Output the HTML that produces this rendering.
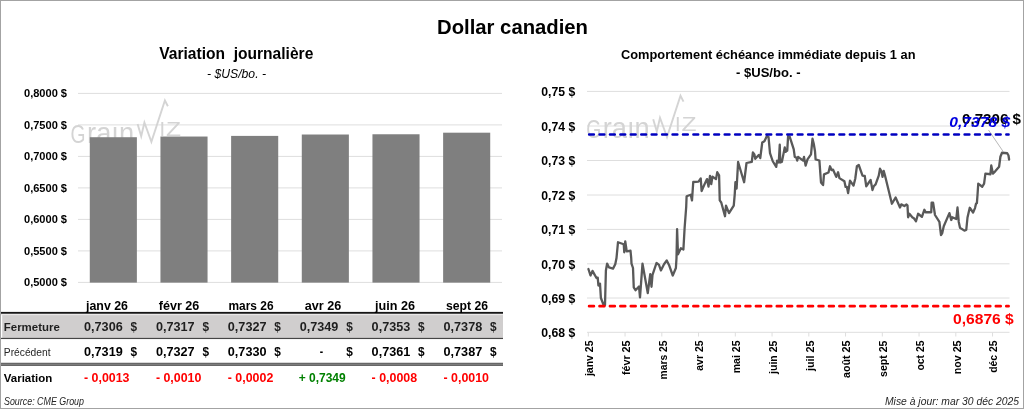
<!DOCTYPE html>
<html lang="fr">
<head>
<meta charset="utf-8">
<title>Dollar canadien</title>
<style>
html,body{margin:0;padding:0;background:#fff;}
body{width:1024px;height:409px;overflow:hidden;}
svg{display:block;}
text{font-family:"Liberation Sans",sans-serif;fill:#000;white-space:pre;}
.b{font-weight:bold;}
.i{font-style:italic;}
.grid line{stroke:#dedede;stroke-width:1;}
.wm text{fill:#d4d4d4;}
</style>
</head>
<body>
<svg width="1024" height="409" viewBox="0 0 1024 409">
<rect x="0" y="0" width="1024" height="409" fill="#ffffff"/>

<text x="437" y="34.2" font-size="20" class="b" textLength="151" lengthAdjust="spacingAndGlyphs">Dollar canadien</text>
<text x="159.3" y="59.2" font-size="17" class="b" textLength="154" lengthAdjust="spacingAndGlyphs" xml:space="preserve">Variation  journalière</text>
<text x="207" y="78" font-size="12" class="i" textLength="59" lengthAdjust="spacingAndGlyphs">- $US/bo. -</text>
<text x="621" y="58.6" font-size="13.2" class="b" textLength="294.5" lengthAdjust="spacingAndGlyphs">Comportement échéance immédiate depuis 1 an</text>
<text x="736" y="76.7" font-size="13.4" class="b" textLength="64.5" lengthAdjust="spacingAndGlyphs">- $US/bo. -</text>
<g class="grid">
<line x1="78" y1="93.4" x2="502" y2="93.4"/>
<line x1="78" y1="124.9" x2="502" y2="124.9"/>
<line x1="78" y1="156.4" x2="502" y2="156.4"/>
<line x1="78" y1="187.9" x2="502" y2="187.9"/>
<line x1="78" y1="219.4" x2="502" y2="219.4"/>
<line x1="78" y1="250.9" x2="502" y2="250.9"/>
<line x1="78" y1="282.4" x2="502" y2="282.4"/>
</g>
<g class="wm" transform="translate(71.6,99.5)">
<text x="-1" y="43" font-size="25.2" textLength="15" lengthAdjust="spacingAndGlyphs">G</text>
<text x="15.5" y="43" font-size="30" textLength="47" lengthAdjust="spacingAndGlyphs">raın</text>
<polyline points="66,24.5 69.6,36.8 72.8,23 79.8,42.3 93.3,1 96.3,6.8" fill="none" stroke="#d4d4d4" stroke-width="1.9" stroke-linejoin="miter"/>
<text x="87.9" y="36.3" font-size="20">I</text>
<text x="94.4" y="36.3" font-size="20" textLength="15" lengthAdjust="spacingAndGlyphs">Z</text>
</g>
<rect x="89.78" y="137.22" width="47.1" height="145.38" fill="#7f7f7f"/>
<rect x="160.45" y="136.53" width="47.1" height="146.07" fill="#7f7f7f"/>
<rect x="231.12" y="135.90" width="47.1" height="146.70" fill="#7f7f7f"/>
<rect x="301.78" y="134.51" width="47.1" height="148.09" fill="#7f7f7f"/>
<rect x="372.45" y="134.26" width="47.1" height="148.34" fill="#7f7f7f"/>
<rect x="443.12" y="132.69" width="47.1" height="149.91" fill="#7f7f7f"/>
<text x="24" y="97.30000000000001" font-size="10.8" class="b" textLength="43" lengthAdjust="spacingAndGlyphs">0,8000 $</text>
<text x="24" y="128.8" font-size="10.8" class="b" textLength="43" lengthAdjust="spacingAndGlyphs">0,7500 $</text>
<text x="24" y="160.3" font-size="10.8" class="b" textLength="43" lengthAdjust="spacingAndGlyphs">0,7000 $</text>
<text x="24" y="191.8" font-size="10.8" class="b" textLength="43" lengthAdjust="spacingAndGlyphs">0,6500 $</text>
<text x="24" y="223.3" font-size="10.8" class="b" textLength="43" lengthAdjust="spacingAndGlyphs">0,6000 $</text>
<text x="24" y="254.8" font-size="10.8" class="b" textLength="43" lengthAdjust="spacingAndGlyphs">0,5500 $</text>
<text x="24" y="286.29999999999995" font-size="10.8" class="b" textLength="43" lengthAdjust="spacingAndGlyphs">0,5000 $</text>
<rect x="1" y="313.7" width="502" height="1.6" fill="#e9e7e7"/>
<rect x="2.2" y="315.1" width="500.8" height="22.8" fill="#d0cece"/>
<rect x="1" y="311.9" width="502" height="1.85" fill="#161616"/>
<rect x="1" y="337.85" width="502" height="1.2" fill="#454545"/>
<rect x="1" y="362.85" width="502" height="3.1" fill="#848484"/>
<rect x="1" y="362.85" width="502" height="1.15" fill="#676767"/>
<rect x="1" y="364.8" width="502" height="1.15" fill="#676767"/>
<text x="86.0" y="309.5" font-size="13.2" class="b" textLength="42" lengthAdjust="spacingAndGlyphs">janv 26</text>
<text x="158.75" y="309.5" font-size="13.2" class="b" textLength="40.5" lengthAdjust="spacingAndGlyphs">févr 26</text>
<text x="228.5" y="309.5" font-size="13.2" class="b" textLength="45" lengthAdjust="spacingAndGlyphs">mars 26</text>
<text x="304.75" y="309.5" font-size="13.2" class="b" textLength="36.5" lengthAdjust="spacingAndGlyphs">avr 26</text>
<text x="375.0" y="309.5" font-size="13.2" class="b" textLength="40" lengthAdjust="spacingAndGlyphs">juin 26</text>
<text x="446.0" y="309.5" font-size="13.2" class="b" textLength="42" lengthAdjust="spacingAndGlyphs">sept 26</text>
<text x="84.0" y="330.8" font-size="12" class="b" textLength="38.7" lengthAdjust="spacingAndGlyphs" fill="#1f1f1f" style="fill:#1f1f1f">0,7306</text>
<text x="130.5" y="330.8" font-size="12" class="b" textLength="6.6" lengthAdjust="spacingAndGlyphs" fill="#1f1f1f" style="fill:#1f1f1f">$</text>
<text x="84.0" y="355.8" font-size="12" class="b" textLength="38.7" lengthAdjust="spacingAndGlyphs">0,7319</text>
<text x="130.5" y="355.8" font-size="12" class="b" textLength="6.6" lengthAdjust="spacingAndGlyphs">$</text>
<text x="84.0" y="382" font-size="12" class="b" textLength="45.5" lengthAdjust="spacingAndGlyphs" fill="#ff0000" style="fill:#ff0000">- 0,0013</text>
<text x="155.9" y="330.8" font-size="12" class="b" textLength="38.7" lengthAdjust="spacingAndGlyphs" fill="#1f1f1f" style="fill:#1f1f1f">0,7317</text>
<text x="202.4" y="330.8" font-size="12" class="b" textLength="6.6" lengthAdjust="spacingAndGlyphs" fill="#1f1f1f" style="fill:#1f1f1f">$</text>
<text x="155.9" y="355.8" font-size="12" class="b" textLength="38.7" lengthAdjust="spacingAndGlyphs">0,7327</text>
<text x="202.4" y="355.8" font-size="12" class="b" textLength="6.6" lengthAdjust="spacingAndGlyphs">$</text>
<text x="155.9" y="382" font-size="12" class="b" textLength="45.5" lengthAdjust="spacingAndGlyphs" fill="#ff0000" style="fill:#ff0000">- 0,0010</text>
<text x="227.8" y="330.8" font-size="12" class="b" textLength="38.7" lengthAdjust="spacingAndGlyphs" fill="#1f1f1f" style="fill:#1f1f1f">0,7327</text>
<text x="274.3" y="330.8" font-size="12" class="b" textLength="6.6" lengthAdjust="spacingAndGlyphs" fill="#1f1f1f" style="fill:#1f1f1f">$</text>
<text x="227.8" y="355.8" font-size="12" class="b" textLength="38.7" lengthAdjust="spacingAndGlyphs">0,7330</text>
<text x="274.3" y="355.8" font-size="12" class="b" textLength="6.6" lengthAdjust="spacingAndGlyphs">$</text>
<text x="227.8" y="382" font-size="12" class="b" textLength="45.5" lengthAdjust="spacingAndGlyphs" fill="#ff0000" style="fill:#ff0000">- 0,0002</text>
<text x="299.70000000000005" y="330.8" font-size="12" class="b" textLength="38.7" lengthAdjust="spacingAndGlyphs" fill="#1f1f1f" style="fill:#1f1f1f">0,7349</text>
<text x="346.20000000000005" y="330.8" font-size="12" class="b" textLength="6.6" lengthAdjust="spacingAndGlyphs" fill="#1f1f1f" style="fill:#1f1f1f">$</text>
<text x="319.70000000000005" y="355.8" font-size="12" class="b" textLength="3.4" lengthAdjust="spacingAndGlyphs">-</text>
<text x="346.20000000000005" y="355.8" font-size="12" class="b" textLength="6.6" lengthAdjust="spacingAndGlyphs">$</text>
<text x="298.70000000000005" y="382" font-size="12" class="b" textLength="47" lengthAdjust="spacingAndGlyphs" fill="#008000" style="fill:#008000">+ 0,7349</text>
<text x="371.6" y="330.8" font-size="12" class="b" textLength="38.7" lengthAdjust="spacingAndGlyphs" fill="#1f1f1f" style="fill:#1f1f1f">0,7353</text>
<text x="418.1" y="330.8" font-size="12" class="b" textLength="6.6" lengthAdjust="spacingAndGlyphs" fill="#1f1f1f" style="fill:#1f1f1f">$</text>
<text x="371.6" y="355.8" font-size="12" class="b" textLength="38.7" lengthAdjust="spacingAndGlyphs">0,7361</text>
<text x="418.1" y="355.8" font-size="12" class="b" textLength="6.6" lengthAdjust="spacingAndGlyphs">$</text>
<text x="371.6" y="382" font-size="12" class="b" textLength="45.5" lengthAdjust="spacingAndGlyphs" fill="#ff0000" style="fill:#ff0000">- 0,0008</text>
<text x="443.5" y="330.8" font-size="12" class="b" textLength="38.7" lengthAdjust="spacingAndGlyphs" fill="#1f1f1f" style="fill:#1f1f1f">0,7378</text>
<text x="490.0" y="330.8" font-size="12" class="b" textLength="6.6" lengthAdjust="spacingAndGlyphs" fill="#1f1f1f" style="fill:#1f1f1f">$</text>
<text x="443.5" y="355.8" font-size="12" class="b" textLength="38.7" lengthAdjust="spacingAndGlyphs">0,7387</text>
<text x="490.0" y="355.8" font-size="12" class="b" textLength="6.6" lengthAdjust="spacingAndGlyphs">$</text>
<text x="443.5" y="382" font-size="12" class="b" textLength="45.5" lengthAdjust="spacingAndGlyphs" fill="#ff0000" style="fill:#ff0000">- 0,0010</text>
<text x="3.8" y="331" font-size="11.6" class="b" textLength="56" lengthAdjust="spacingAndGlyphs" fill="#1f1f1f" style="fill:#1f1f1f">Fermeture</text>
<text x="3.8" y="355.8" font-size="11.4" textLength="46.8" lengthAdjust="spacingAndGlyphs" fill="#262626" style="fill:#262626">Précédent</text>
<text x="3.8" y="382" font-size="11.8" class="b" textLength="48.5" lengthAdjust="spacingAndGlyphs">Variation</text>
<text x="4" y="404.6" font-size="10" class="i" textLength="80" lengthAdjust="spacingAndGlyphs" fill="#262626" style="fill:#262626">Source: CME Group</text>
<g class="grid">
<line x1="587" y1="91.4" x2="1009.5" y2="91.4"/>
<line x1="587" y1="126.0" x2="1009.5" y2="126.0"/>
<line x1="587" y1="160.5" x2="1009.5" y2="160.5"/>
<line x1="587" y1="195.0" x2="1009.5" y2="195.0"/>
<line x1="587" y1="229.4" x2="1009.5" y2="229.4"/>
<line x1="587" y1="263.8" x2="1009.5" y2="263.8"/>
<line x1="587" y1="298.0" x2="1009.5" y2="298.0"/>
<line x1="587" y1="332.3" x2="1009.5" y2="332.3"/>
<line x1="588.30" y1="332.3" x2="588.30" y2="336.5"/>
<line x1="625.05" y1="332.3" x2="625.05" y2="336.5"/>
<line x1="661.80" y1="332.3" x2="661.80" y2="336.5"/>
<line x1="698.55" y1="332.3" x2="698.55" y2="336.5"/>
<line x1="735.30" y1="332.3" x2="735.30" y2="336.5"/>
<line x1="772.05" y1="332.3" x2="772.05" y2="336.5"/>
<line x1="808.80" y1="332.3" x2="808.80" y2="336.5"/>
<line x1="845.55" y1="332.3" x2="845.55" y2="336.5"/>
<line x1="882.30" y1="332.3" x2="882.30" y2="336.5"/>
<line x1="919.05" y1="332.3" x2="919.05" y2="336.5"/>
<line x1="955.80" y1="332.3" x2="955.80" y2="336.5"/>
<line x1="992.55" y1="332.3" x2="992.55" y2="336.5"/>
</g>
<g class="wm" transform="translate(587.2,94.8)">
<text x="-1" y="43" font-size="25.2" textLength="15" lengthAdjust="spacingAndGlyphs">G</text>
<text x="15.5" y="43" font-size="30" textLength="47" lengthAdjust="spacingAndGlyphs">raın</text>
<polyline points="66,24.5 69.6,36.8 72.8,23 79.8,42.3 93.3,1 96.3,6.8" fill="none" stroke="#d4d4d4" stroke-width="1.9" stroke-linejoin="miter"/>
<text x="87.9" y="36.3" font-size="20">I</text>
<text x="94.4" y="36.3" font-size="20" textLength="15" lengthAdjust="spacingAndGlyphs">Z</text>
</g>
<text x="541.2" y="96.10000000000001" font-size="12.2" class="b" textLength="34" lengthAdjust="spacingAndGlyphs">0,75 $</text>
<text x="541.2" y="130.7" font-size="12.2" class="b" textLength="34" lengthAdjust="spacingAndGlyphs">0,74 $</text>
<text x="541.2" y="165.2" font-size="12.2" class="b" textLength="34" lengthAdjust="spacingAndGlyphs">0,73 $</text>
<text x="541.2" y="199.7" font-size="12.2" class="b" textLength="34" lengthAdjust="spacingAndGlyphs">0,72 $</text>
<text x="541.2" y="234.1" font-size="12.2" class="b" textLength="34" lengthAdjust="spacingAndGlyphs">0,71 $</text>
<text x="541.2" y="268.5" font-size="12.2" class="b" textLength="34" lengthAdjust="spacingAndGlyphs">0,70 $</text>
<text x="541.2" y="302.7" font-size="12.2" class="b" textLength="34" lengthAdjust="spacingAndGlyphs">0,69 $</text>
<text x="541.2" y="337.0" font-size="12.2" class="b" textLength="34" lengthAdjust="spacingAndGlyphs">0,68 $</text>
<text transform="translate(593.10,340.5) rotate(-90)" text-anchor="end" font-size="10.8" class="b" textLength="35.6" lengthAdjust="spacingAndGlyphs">janv 25</text>
<text transform="translate(629.85,340.5) rotate(-90)" text-anchor="end" font-size="10.8" class="b" textLength="34.6" lengthAdjust="spacingAndGlyphs">févr 25</text>
<text transform="translate(666.60,340.5) rotate(-90)" text-anchor="end" font-size="10.8" class="b" textLength="39" lengthAdjust="spacingAndGlyphs">mars 25</text>
<text transform="translate(703.35,340.5) rotate(-90)" text-anchor="end" font-size="10.8" class="b" textLength="30.2" lengthAdjust="spacingAndGlyphs">avr 25</text>
<text transform="translate(740.10,340.5) rotate(-90)" text-anchor="end" font-size="10.8" class="b" textLength="32.8" lengthAdjust="spacingAndGlyphs">mai 25</text>
<text transform="translate(776.85,340.5) rotate(-90)" text-anchor="end" font-size="10.8" class="b" textLength="33.5" lengthAdjust="spacingAndGlyphs">juin 25</text>
<text transform="translate(813.60,340.5) rotate(-90)" text-anchor="end" font-size="10.8" class="b" textLength="30.5" lengthAdjust="spacingAndGlyphs">juil 25</text>
<text transform="translate(850.35,340.5) rotate(-90)" text-anchor="end" font-size="10.8" class="b" textLength="37.5" lengthAdjust="spacingAndGlyphs">août 25</text>
<text transform="translate(887.10,340.5) rotate(-90)" text-anchor="end" font-size="10.8" class="b" textLength="36.5" lengthAdjust="spacingAndGlyphs">sept 25</text>
<text transform="translate(923.85,340.5) rotate(-90)" text-anchor="end" font-size="10.8" class="b" textLength="30" lengthAdjust="spacingAndGlyphs">oct 25</text>
<text transform="translate(960.60,340.5) rotate(-90)" text-anchor="end" font-size="10.8" class="b" textLength="33.8" lengthAdjust="spacingAndGlyphs">nov 25</text>
<text transform="translate(997.35,340.5) rotate(-90)" text-anchor="end" font-size="10.8" class="b" textLength="32.3" lengthAdjust="spacingAndGlyphs">déc 25</text>
<polyline points="588.4,269 590.5,275.5 592.5,270.9 594,273.6 596.5,278 597.75,277.75 598.4,285.5 600,283.6 600.9,298 604,306 605,305 605.9,270.5 607.1,263.6 609,267.4 613,268.6 615.25,264.25 616.5,258 618,242.25 623.75,244.25 624.25,252.25 625.25,241.4 626.75,251.4 630.5,250.75 631.2,258 631.5,263.6 633,268 633.75,287.4 635.5,290.25 639,286.5 640,297.4 642.5,263.6 647.75,293 650.25,274.25 651.5,286.75 652.5,274.9 656.5,263 659,264.9 660.9,270.5 664,264.25 666.75,260.5 669,264.9 672.75,275.5 675.9,268 676.5,258 677.1,229.25 678,254.25 680.9,248.25 683.4,249.5 684.6,228.25 686.2,207 686.6,196.25 690.75,194.75 692,200.4 693.25,182 698.5,181.6 700.75,178.5 701.6,191 703.75,186 707,179.1 708.5,186.6 710,176 711.25,184.1 712.5,176.6 716,179.1 717.25,172.25 719.1,175.4 719.75,200.4 721.25,202.5 725,216.25 726,205.6 729,213.1 733.75,205.6 734.75,194.1 735.4,182.25 736.6,188.5 738.1,162 744.1,182.25 746.5,163 751.8,161.8 752.9,152.5 754.4,154.4 755.25,158.75 758.75,155 760.25,158.1 762.25,142.5 764.4,141.25 766.9,136 768.5,136.9 770,153.1 772.75,161.25 776.25,166.9 777.1,160.6 778.75,162.5 779.75,144.75 780.25,162.5 781.9,161.9 784.75,147.5 785.6,151.9 787.25,150.6 788.1,136.25 789.75,136.9 793.75,149.4 794.75,156.9 796.25,157.5 797.25,160.6 798.1,156.9 803.1,160.6 804,156.9 805.6,165.6 807.5,159.4 811,154.4 812.5,138.75 813.75,143.75 815,151.25 815.6,159.4 818.5,160.25 819.4,160.6 821,182.5 823.1,185 824,174.4 828.5,172.5 830,166.25 831.5,170 833.1,169.75 836.25,176.9 838.1,172.25 839.4,178.1 844.4,181.25 845.6,186.9 846.9,186.9 848.1,193.1 850,180.6 853.5,185.6 855.25,178.75 856.9,166.25 858.75,165 862.5,175.6 864.75,176 866.25,186.25 870.6,180 872.5,190 873.75,186.25 875.6,184.4 878.75,175.6 880,168.75 881.5,171.25 882.5,176.9 883.75,171 885,175.6 891.9,203.75 895.6,197.5 900,207.5 901.25,204.4 904.4,206 906.5,204.4 907.5,205.6 908.1,217.25 909.4,213.75 912.5,217.5 913.75,218.1 916,221.25 918.1,213.75 921.9,216.9 924.4,209.75 925.6,212.25 931.25,212.25 931.6,202.75 933.1,202.75 935,215 939.4,221.9 941,235 942.25,233.1 943.75,226.25 949.4,213.1 951.25,220 952.25,217.25 956.25,219 957.5,207.5 958.75,221.9 960,227.75 964.4,230.6 966.25,230 967.5,217.5 969.75,207.75 973.1,212.5 975,208.1 976,203.75 976.9,203.1 977.5,195 978.25,183.6 982.25,186.75 984.1,183.6 985.4,173.6 990.4,174.25 991.25,165.5 992.9,173.6 995.4,171.1 999.1,166.75 1000.4,156.75 1002,152.75 1007.25,153.25 1008.5,155.5 1009.1,159.5" fill="none" stroke="#595959" stroke-width="2.3" stroke-linejoin="round" stroke-linecap="round"/>
<line x1="988.5" y1="130" x2="1003.2" y2="151.6" stroke="#a6a6a6" stroke-width="0.8"/>
<line x1="589.1" y1="134.5" x2="1008.6" y2="134.5" stroke="#0000c0" stroke-width="2.5" stroke-dasharray="4.8 5.63" stroke-linecap="round"/>
<line x1="589.1" y1="306.2" x2="1008.6" y2="306.2" stroke="#ff0000" stroke-width="2.7" stroke-dasharray="4.8 5.63" stroke-linecap="round"/>
<text x="962" y="124.2" font-size="14.4" class="b" textLength="59" lengthAdjust="spacingAndGlyphs">0,7306 $</text>
<text x="949.2" y="127.1" font-size="14.4" class="b i" textLength="61" lengthAdjust="spacingAndGlyphs" fill="#0000e0" style="fill:#0000e0">0,7378 $</text>
<text x="953" y="324" font-size="14.4" class="b" textLength="60.8" lengthAdjust="spacingAndGlyphs" fill="#ff0000" style="fill:#ff0000">0,6876 $</text>
<text x="885" y="404.5" font-size="10" class="i" textLength="134" lengthAdjust="spacingAndGlyphs" fill="#262626" style="fill:#262626">Mise à jour: mar 30 déc 2025</text>
<rect x="0.5" y="0.5" width="1023" height="408" fill="none" stroke="#a3a3a3" stroke-width="1"/>
</svg>
</body>
</html>
